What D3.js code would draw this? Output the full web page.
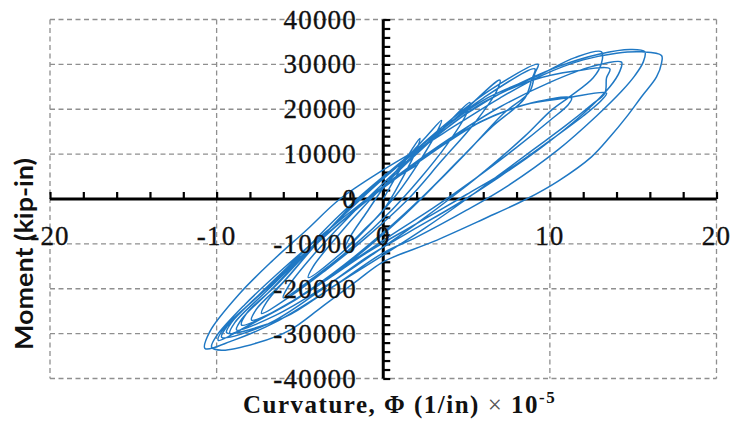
<!DOCTYPE html>
<html>
<head>
<meta charset="utf-8">
<script src="https://cdn.jsdelivr.net/npm/d3@7"></script>
<style>
  html, body { margin: 0; padding: 0; background: #fff; }
  svg { display: block; }
</style>
</head>
<body>
<svg id="chart" width="734" height="424"></svg>
<script>
// ---- data ----
const curvature = [
  0, 1.0, 1.8, 2.2, 2.0, 1.2, 0, -1.2, -2.3, -2.0, -1.0, 0.2, 1.5, 2.6, 3.5,
  3.3, 2.2, 0.8, -1, -2.5, -4.5, -4.2, -2.8, -1, 1, 3, 5.2,
  5.0, 3.8, 2.2, 0.5, -1.8, -4, -6.0, -5.7, -4.2, -2.2, 0, 2.5, 4.8, 7,
  6.8, 5.5, 3.5, 1.5, -1, -3.5, -5.5, -7.3, -7.0, -5.5, -3.3, -1, 1.5, 4, 6.5, 9.3,
  9.1, 8.8, 7.2, 5.3, 3.2, 1, -1.5, -4.5, -6.5, -7.9, -7.6, -6, -3.8, -1.5, 1, 3.5, 6, 9.1,
  8.9, 8.5, 6.5, 4.5, 2.5, 0, -3, -6, -8.5, -8.2, -6.5, -4.2, -2, 0.5, 3, 6, 9.3, 11.5, 13.1,
  13.1, 12.6, 11.2, 10.1, 8.5, 6.5, 4.5, 2, -0.5, -3.5, -6.5, -8.8,
  -8.5, -6.8, -4.5, -2.2, 0.3, 3, 6, 9, 11.5, 13.6,
  13.4, 13.3, 12.5, 11, 9, 7, 5, 2.5, 0, -3, -6, -9.4,
  -9.1, -7.5, -5, -2.6, 0, 2.5, 5, 7.5, 10.5, 13, 14.8, 15.7,
  15.6, 15.1, 14.3, 12.8, 10.5, 7.5, 5, 2, 0, -3, -6.5, -9, -10.7,
  -10.4, -8.6, -6.6, -4.6, -2.6, 0, 2.3, 4.6, 7, 9.5, 12, 14, 15.5, 16.7,
  16.7, 16.4, 15.5, 14.6, 13.6, 12.5, 10.5, 8.6, 6, 3, 0, -1.5, -3.7, -5.6, -7.6, -9.7, -10.3,
  -10, -8.3, -6, -3.5, -1, 1.5, 4, 7, 10, 12.5, 14.3,
  14.2, 13.6, 12, 9.5, 7, 4.5, 1.5, -1, -4, -7, -9.7,
  -9.4, -7.5, -5, -2.5, 0, 3, 6, 9, 11.3,
  11.1, 10, 8, 5.5, 3, 0.5, -2.5, -5.5, -8, -9.9,
  -9.6, -7.6, -5.2, -2.8, -0.3, 2.5, 5.5, 8.5, 11, 13.4,
  13.1, 12, 10, 7.5, 5, 2, -1, -4, -7, -9.2,
  -8.9, -7, -4.5, -2, 0.5, 2
];
const moment = [
  0, 6500, 11500, 13500, 11000, 5000, -2500, -7000, -11000, -8500, -3000, 3500, 9500, 14000, 17500,
  15500, 8500, 1000, -6500, -12000, -17500, -15000, -8500, -1000, 6500, 13500, 21500,
  19000, 12000, 4500, -2500, -10500, -17000, -22000, -19500, -12500, -4500, 3500, 12000, 19500, 26500,
  24000, 17000, 8500, 0, -8500, -16000, -21500, -25500, -23000, -16500, -7000, 1500, 9500, 17500, 24500, 30000,
  28000, 24000, 19000, 11500, 3500, -4500, -12500, -20500, -25000, -27000, -24500, -18500, -9000, 0, 8000, 15500, 22500, 29000,
  26500, 22500, 16000, 8500, 1000, -7500, -16500, -24000, -28100, -25500, -19500, -10500, -2000, 6500, 14000, 22000, 27500, 31500, 32800,
  30300, 27000, 22800, 19800, 14000, 7500, 1500, -5500, -12000, -19500, -26000, -29200,
  -26800, -20500, -11500, -3000, 5500, 13500, 21500, 26500, 28500, 29000,
  27000, 23600, 21000, 16500, 11000, 5500, 0, -6500, -12500, -19500, -26500, -29800,
  -27500, -21500, -12500, -3500, 5000, 12000, 19000, 24500, 29500, 32300, 33300, 32800,
  30500, 27500, 24000, 18500, 11000, 3000, -2500, -8500, -12000, -19500, -27500, -31500, -33300,
  -29500, -21000, -13600, -6900, 0, 6500, 11600, 17000, 22500, 27500, 31000, 32500, 32800, 32000,
  30300, 27200, 22800, 18300, 13800, 9400, 4000, 0, -4500, -9500, -14000, -18000, -24100, -29200, -32100, -33700, -33000,
  -30500, -23500, -15500, -7500, 0, 7000, 13500, 20500, 26000, 29500, 30500,
  28500, 25000, 19000, 11500, 5000, -1000, -7500, -13000, -21000, -28000, -30800,
  -28500, -21500, -13000, -5000, 2500, 10500, 17500, 21500, 22500,
  21000, 17500, 11500, 4500, -2000, -8000, -15500, -23000, -28000, -31500,
  -29000, -22000, -14000, -6000, 2000, 9500, 16500, 21000, 22500, 23600,
  22000, 18500, 13000, 6500, 1000, -5500, -12000, -19500, -26000, -30000,
  -27500, -20500, -11500, -3500, 4000, 7500
];
const xTickLabels = [-20, -10, 0, 10, 20];
const yTickLabels = [-40000, -30000, -20000, -10000, 0, 10000, 20000, 30000, 40000];
const xTitle = "Curvature, Φ (1/in)";
const yTitle = "Moment (kip-in)";

// ---- drawing ----
const svg = d3.select("#chart");
const x = d3.scaleLinear().domain([-20, 20]).range([50, 716.5]);
const y = d3.scaleLinear().domain([-40000, 40000]).range([378.5, 19.5]);

const grid = svg.append("g")
  .attr("stroke", "#8f8f8f").attr("stroke-width", 1.3)
  .attr("stroke-dasharray", "5,3.5").attr("fill", "none");
xTickLabels.filter(v => v !== 0).forEach(v => {
  grid.append("line").attr("x1", x(v)).attr("x2", x(v)).attr("y1", y(40000)).attr("y2", y(-40000));
});
yTickLabels.filter(v => v !== 0).forEach(v => {
  grid.append("line").attr("x1", x(-20)).attr("x2", x(20)).attr("y1", y(v)).attr("y2", y(v));
});

// axes crossing at zero
const xAxis = d3.axisTop(x).tickValues(d3.range(-20, 20.01, 2)).tickSize(7).tickFormat("");
const gx = svg.append("g").attr("transform", `translate(0,${y(0)})`).call(xAxis);
gx.select(".domain").attr("stroke", "#000").attr("stroke-width", 3).attr("d", `M${x(-20)},0H${x(20)}`);
gx.selectAll(".tick line").attr("stroke", "#000").attr("stroke-width", 2.2);

const yAxis = d3.axisRight(y).tickValues(d3.range(-40000, 40001, 2000)).tickSize(7).tickFormat("");
const gy = svg.append("g").attr("transform", `translate(${x(0)},0)`).call(yAxis);
gy.select(".domain").attr("stroke", "#000").attr("stroke-width", 3).attr("d", `M0,${y(40000)}V${y(-40000)}`);
gy.selectAll(".tick line").attr("stroke", "#000").attr("stroke-width", 2.2);

// hysteresis curve
const pts = curvature.map((c, i) => [c, moment[i]]);
const line = d3.line().x(d => x(d[0])).y(d => y(d[1])).curve(d3.curveCatmullRom.alpha(0.5));
svg.append("path").datum(pts)
  .attr("d", line)
  .attr("fill", "none")
  .attr("stroke", "#1f78c4")
  .attr("stroke-width", 1.5)
  .attr("stroke-linejoin", "round");

// tick labels
const labelFont = "'Liberation Serif', 'Times New Roman', serif";
svg.append("g").selectAll("text").data(yTickLabels).join("text")
  .attr("x", 357).attr("y", d => y(d) + 9)
  .attr("text-anchor", "end")
  .attr("font-family", labelFont).attr("font-size", 27)
  .attr("letter-spacing", 1.2)
  .attr("fill", "#111").attr("stroke", "#111").attr("stroke-width", 0.35)
  .text(d => d);

svg.append("g").selectAll("text").data(xTickLabels).join("text")
  .attr("x", d => x(d)).attr("y", 245)
  .attr("text-anchor", "middle")
  .attr("font-family", labelFont).attr("font-size", 27)
  .attr("letter-spacing", 1.2)
  .attr("fill", "#111").attr("stroke", "#111").attr("stroke-width", 0.35)
  .text(d => d);

// axis titles
svg.append("text")
  .attr("transform", "translate(33,254) rotate(-90)")
  .attr("text-anchor", "middle")
  .attr("font-family", "Lato, 'Open Sans', sans-serif")
  .attr("font-weight", "bold").attr("font-size", 25)
  .attr("textLength", 192).attr("lengthAdjust", "spacingAndGlyphs")
  .attr("fill", "#111")
  .text(yTitle);

const xt = svg.append("text")
  .attr("x", 243).attr("y", 413)
  .attr("font-family", labelFont).attr("font-size", 25)
  .attr("letter-spacing", 1.5)
  .attr("fill", "#111");
xt.append("tspan").attr("font-weight", "bold").text(xTitle + " ");
xt.append("tspan").attr("font-weight", "normal").attr("fill", "#555").text("×");
xt.append("tspan").attr("font-weight", "bold").text(" 10");
xt.append("tspan").attr("font-weight", "bold").attr("font-size", 17).attr("dy", -10).text("-5");
</script>
</body>
</html>
